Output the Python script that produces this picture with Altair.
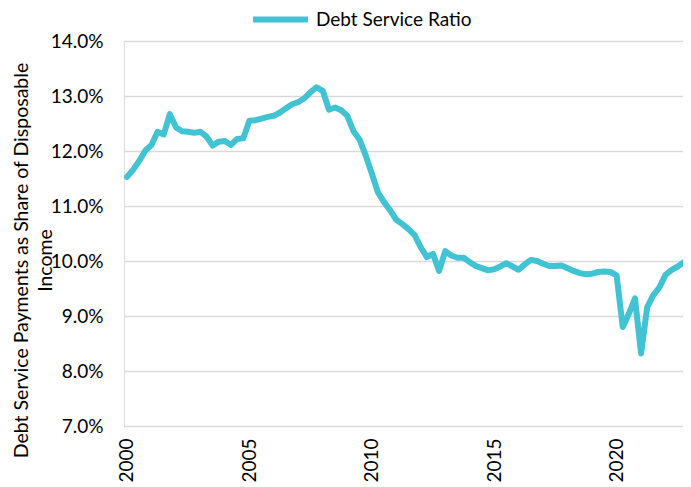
import altair as alt
import pandas as pd

# Quarterly household debt service ratio (% of disposable personal income)
quarters = [f"{y}Q{q}" for y in range(2000, 2024) for q in range(1, 5)][:93]
ratio = [
    11.53, 11.66, 11.82, 12.01, 12.11, 12.35, 12.30, 12.67, 12.43, 12.36,
    12.35, 12.33, 12.35, 12.26, 12.10, 12.17, 12.18, 12.11, 12.22, 12.23,
    12.55, 12.56, 12.59, 12.62, 12.64, 12.70, 12.78, 12.85, 12.89, 12.96,
    13.07, 13.16, 13.09, 12.75, 12.79, 12.74, 12.64, 12.36, 12.21, 11.92,
    11.59, 11.25, 11.07, 10.92, 10.75, 10.67, 10.58, 10.47, 10.25, 10.07,
    10.13, 9.82, 10.18, 10.10, 10.06, 10.06, 9.98, 9.91, 9.87, 9.83,
    9.85, 9.90, 9.96, 9.90, 9.84, 9.94, 10.02, 10.00, 9.95, 9.91,
    9.91, 9.92, 9.87, 9.82, 9.78, 9.76, 9.77, 9.80, 9.81, 9.80,
    9.74, 8.80, 9.04, 9.32, 8.32, 9.16, 9.38, 9.52, 9.75, 9.84,
    9.90, 9.98, 9.86,
]
series_name = "Debt Service Ratio"
y_title_lines = ["Debt Service Payments as Share of Disposable",
                 "\u00a0" * 11 + "Income"]
y_ticks = [7, 8, 9, 10, 11, 12, 13, 14]
x_ticks = [2000, 2005, 2010, 2015, 2020]

df = pd.DataFrame({
    "quarter": quarters,
    "ratio": ratio,
})
df["t"] = [int(s[:4]) + (int(s[-1]) - 1) / 4 for s in df["quarter"]]
df["series"] = series_name

FONT = "Lato"
COLOR = "#41C3D3"

line = alt.Chart(df).mark_line(
    strokeWidth=6, strokeCap="round", strokeJoin="round", clip=True
).encode(
    x=alt.X(
        "t:Q",
        scale=alt.Scale(domain=[1999.8775, 2022.7125], nice=False, zero=False),
        axis=alt.Axis(
            values=x_ticks, format="d", labelAngle=-90, labelAlign="right",
            labelBaseline="middle", labelPadding=12, ticks=False, domain=False,
            grid=False, title=None, labelFont=FONT, labelFontSize=19,
            labelColor="#000000",
        ),
    ),
    y=alt.Y(
        "ratio:Q",
        scale=alt.Scale(domain=[7, 14], nice=False, zero=False),
        axis=alt.Axis(
            values=y_ticks, labelExpr="format(datum.value, '.1f') + '%'",
            ticks=False, domain=False, grid=True, gridColor="#D9D9D9",
            gridWidth=1.6, labelPadding=21, labelFont=FONT, labelFontSize=19,
            labelColor="#000000",
            title=y_title_lines,
            titleFont=FONT, titleFontSize=19.5, titleFontWeight="normal",
            titleColor="#000000", titleAngle=-90, titleAlign="center",
            titleBaseline="alphabetic", titleX=-97, titleY=219,
            titleLineHeight=24,
        ),
    ),
    color=alt.Color(
        "series:N",
        scale=alt.Scale(range=[COLOR]),
        legend=alt.Legend(
            title=None, orient="none", legendX=126, legendY=-52,
            symbolType="stroke", symbolSize=3025, symbolStrokeWidth=6,
            labelFont=FONT, labelFontSize=19, labelColor="#000000",
            labelOffset=5, padding=0,
        ),
    ),
)

chart = line.properties(
    width=559,
    height=385,
    autosize=alt.AutoSizeParams(type="none"),
    padding={"left": 116, "top": 33, "right": 0, "bottom": 60},
).configure_view(stroke=None).configure(background="white")

chart.save("out.html", embed_options={"renderer": "svg", "actions": False})
